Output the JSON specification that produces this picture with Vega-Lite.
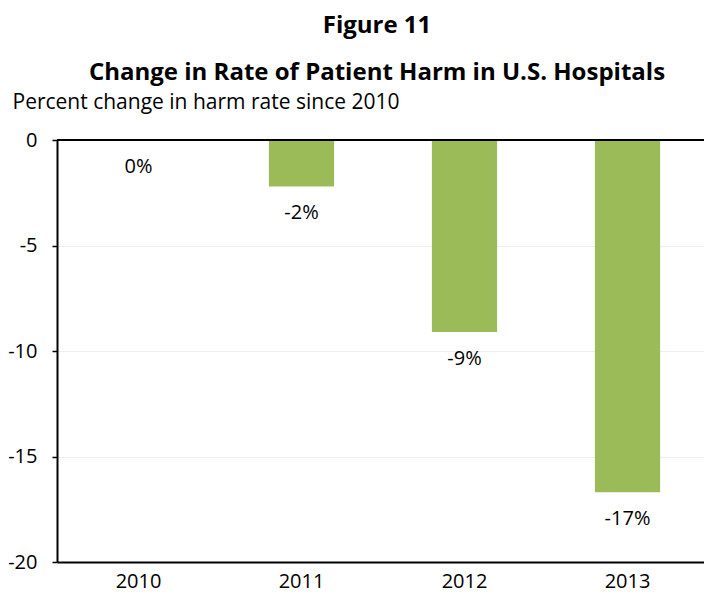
{
  "$schema": "https://vega.github.io/schema/vega-lite/v6.json",
  "width": 652,
  "height": 422,
  "autosize": "none",
  "padding": {"left": 57, "top": 140, "right": 0, "bottom": 40},
  "background": "white",
  "title": {
    "text": "Figure 11",
    "subtitle": "Change in Rate of Patient Harm in U.S. Hospitals",
    "anchor": "middle",
    "frame": "group",
    "dx": -6,
    "offset": 6,
    "font": "Open Sans",
    "fontSize": 24,
    "fontWeight": "bold",
    "color": "#000000",
    "subtitleFont": "Open Sans",
    "subtitleFontSize": 24,
    "subtitleFontWeight": "bold",
    "subtitleColor": "#000000",
    "subtitlePadding": 23
  },
  "data": {
    "values": [
      {"year": "2010", "change": 0, "label": "0%"},
      {"year": "2011", "change": -2.2, "label": "-2%"},
      {"year": "2012", "change": -9.1, "label": "-9%"},
      {"year": "2013", "change": -16.7, "label": "-17%"}
    ]
  },
  "encoding": {
    "x": {
      "field": "year",
      "type": "nominal",
      "sort": null,
      "scale": {"paddingInner": 0.6, "paddingOuter": 0.3},
      "axis": {
        "title": null,
        "labelAngle": 0,
        "labelFont": "Open Sans",
        "labelFontSize": 20,
        "labelColor": "#000000",
        "labelPadding": 9,
        "ticks": false,
        "domainColor": "#000000",
        "domainWidth": 2
      }
    },
    "y": {
      "field": "change",
      "type": "quantitative",
      "scale": {"domain": [-20, 0], "nice": false},
      "axis": {
        "values": [0, -5, -10, -15, -20],
        "labelExpr": "toString(datum.value)",
        "title": "Percent change in harm rate since 2010",
        "titleAngle": 0,
        "titleAlign": "left",
        "titleBaseline": "middle",
        "titleX": -45,
        "titleY": -38,
        "titleFont": "Open Sans",
        "titleFontSize": 21,
        "titleFontWeight": "normal",
        "titleColor": "#000000",
        "labelFont": "Open Sans",
        "labelFontSize": 20,
        "labelColor": "#000000",
        "labelPadding": 15,
        "tickSize": 5,
        "tickColor": "#000000",
        "tickWidth": 1.5,
        "domainColor": "#000000",
        "domainWidth": 2,
        "grid": true,
        "gridColor": "#efefef",
        "gridWidth": 1
      }
    }
  },
  "layer": [
    {
      "mark": {"type": "bar", "color": "#9BBB59"}
    },
    {
      "mark": {
        "type": "text",
        "baseline": "top",
        "dy": 17,
        "font": "Open Sans",
        "fontSize": 20,
        "color": "#000000"
      },
      "encoding": {"text": {"field": "label"}}
    },
    {
      "data": {"values": [{"zero": 0}]},
      "mark": {"type": "rule", "color": "#000000", "strokeWidth": 2},
      "encoding": {
        "y": {"field": "zero", "type": "quantitative"},
        "x": null
      }
    }
  ],
  "config": {"view": {"stroke": null}}
}
